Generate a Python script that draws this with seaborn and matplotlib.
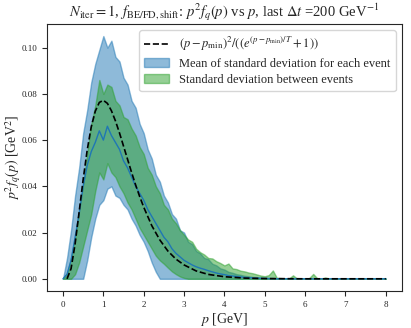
import numpy as np
import pandas as pd
import matplotlib
matplotlib.use("Agg")
import matplotlib.pyplot as plt
import seaborn as sns

# momentum grid of the histogram bins [GeV]
p_grid = np.round(np.arange(0, 8.01, 0.1), 1)

# mean over events
mean_val = [0, 0.002, 0.008, 0.018, 0.028, 0.040, 0.049, 0.055, 0.059, 0.064,
            0.060, 0.066, 0.062, 0.059, 0.056, 0.051, 0.048, 0.044, 0.040, 0.037,
            0.034, 0.030, 0.027, 0.024, 0.021, 0.018, 0.016, 0.013, 0.011, 0.0095,
            0.008, 0.007, 0.006, 0.0052, 0.0046, 0.0041, 0.0035, 0.003, 0.0025, 0.0021,
            0.0018, 0.0014, 0.0012, 0.001, 0.0008, 0.0006, 0.0005, 0.0004, 0.0003, 0.0002,
            0.0002, 0.0001, 0.0001, 0, 0, 0, 0, 0, 0, 0,
            0, 0, 0, 0, 0, 0, 0, 0, 0, 0,
            0, 0, 0, 0, 0, 0, 0, 0, 0, 0, 0]

# band: mean of standard deviation for each event
blue_hi = [0, 0.009, 0.021, 0.036, 0.048, 0.063, 0.073, 0.085, 0.093, 0.099,
           0.105, 0.100, 0.103, 0.096, 0.094, 0.087, 0.084, 0.077, 0.074, 0.067,
           0.063, 0.056, 0.052, 0.045, 0.042, 0.036, 0.033, 0.028, 0.026, 0.021,
           0.020, 0.016, 0.015, 0.012, 0.011, 0.009, 0.0085, 0.0065, 0.0058, 0.0045,
           0.004, 0.003, 0.0026, 0.002, 0.0017, 0.0013, 0.0011, 0.0008, 0.0007, 0.0005,
           0.0004, 0.0003, 0.0003, 0.0002, 0.0002, 0.0001, 0, 0, 0, 0,
           0, 0, 0, 0, 0, 0, 0, 0, 0, 0,
           0, 0, 0, 0, 0, 0, 0, 0, 0, 0, 0]
blue_lo = [0, 0, 0, 0, 0, 0, 0.008, 0.018, 0.026, 0.032,
           0.034, 0.039, 0.040, 0.036, 0.035, 0.032, 0.030, 0.026, 0.023, 0.019,
           0.016, 0.012, 0.007, 0.003, 0, 0, 0, 0, 0, 0,
           0, 0, 0, 0, 0, 0, 0, 0, 0, 0,
           0, 0, 0, 0, 0, 0, 0, 0, 0, 0,
           0, 0, 0, 0, 0, 0, 0, 0, 0, 0,
           0, 0, 0, 0, 0, 0, 0, 0, 0, 0,
           0, 0, 0, 0, 0, 0, 0, 0, 0, 0, 0]

# band: standard deviation between events
green_hi = [0, 0.002, 0.009, 0.018, 0.030, 0.041, 0.054, 0.067, 0.075, 0.086,
            0.080, 0.084, 0.083, 0.077, 0.075, 0.070, 0.069, 0.065, 0.062, 0.057,
            0.054, 0.048, 0.045, 0.040, 0.037, 0.032, 0.030, 0.026, 0.024, 0.021,
            0.019, 0.017, 0.016, 0.013, 0.0115, 0.0105, 0.009, 0.0088, 0.0076, 0.0068,
            0.0058, 0.0066, 0.0045, 0.0042, 0.0035, 0.0032, 0.0027, 0.0024, 0.0019, 0.0014,
            0.0011, 0.0016, 0.0036, 0.0004, 0.0003, 0.0002, 0.0001, 0.0015, 0.0001, 0,
            0, 0.0003, 0.0021, 0.0002, 0, 0.0006, 0, 0, 0, 0,
            0, 0, 0, 0, 0, 0, 0, 0, 0, 0, 0]
green_lo = [0, 0, 0, 0.002, 0.007, 0.014, 0.021, 0.028, 0.038, 0.046,
            0.043, 0.050, 0.046, 0.044, 0.040, 0.037, 0.033, 0.030, 0.026, 0.022,
            0.019, 0.016, 0.013, 0.010, 0.008, 0.0065, 0.0048, 0.0032, 0.002, 0.001,
            0.0004, 0, 0, 0, 0, 0, 0, 0, 0, 0,
            0, 0, 0, 0, 0, 0, 0, 0, 0, 0,
            0, 0, 0, 0, 0, 0, 0, 0, 0, 0,
            0, 0, 0, 0, 0, 0, 0, 0, 0, 0,
            0, 0, 0, 0, 0, 0, 0, 0, 0, 0, 0]

# reference curve (p - pmin)^2 / (exp((p - pmin)/T) + 1)
p_ref = [0.1, 0.2, 0.3, 0.4, 0.5, 0.6, 0.7, 0.8, 0.9, 1.0,
         1.1, 1.2, 1.3, 1.4, 1.5, 1.6, 1.7, 1.8, 1.9, 2.0,
         2.2, 2.4, 2.6, 2.8, 3.0, 3.3, 3.6, 4.0, 4.5, 5.0, 6.0, 7.0, 8.0]
f_ref = [0, 0.0044, 0.0151, 0.0289, 0.0430, 0.0557, 0.0657, 0.0725, 0.0763, 0.0772,
         0.0759, 0.0727, 0.0683, 0.0631, 0.0574, 0.0517, 0.0460, 0.0406, 0.0356, 0.0310,
         0.0230, 0.0168, 0.0120, 0.0085, 0.0060, 0.0034, 0.0019, 0.0009, 0.0003, 0.0001,
         0, 0, 0]

df = pd.DataFrame({"p": p_grid, "mean": mean_val})
df_ref = pd.DataFrame({"p": p_ref, "f": f_ref})

sns.set_style("ticks")
plt.rcParams["font.family"] = ["Liberation Serif", "DejaVu Serif"]
plt.rcParams["mathtext.fontset"] = "stix"

fig, ax = plt.subplots(figsize=(4.11, 3.28), dpi=100)
fig.subplots_adjust(left=0.114, right=0.978, top=0.927, bottom=0.113)

sns.lineplot(data=df_ref, x="p", y="f", color="black", linestyle="--", lw=1.2,
             label=r"$(p-p_{\rm min})^2/((e^{(p-p_{\rm min})/T}+1))$", ax=ax, zorder=4)
ax.fill_between(p_grid, blue_lo, blue_hi, color="tab:blue", alpha=0.5,
                label="Mean of standard deviation for each event")
ax.fill_between(p_grid, green_lo, green_hi, color="tab:green", alpha=0.5,
                label="Standard deviation between events")
sns.lineplot(data=df, x="p", y="mean", color="tab:blue", lw=1.0, ax=ax, zorder=3)

ax.set_title(r"$N_{\rm iter}=1$, $f_{\rm BE/FD,shift}$: $p^2f_q(p)$ vs $p$, last $\Delta t$ =200 GeV$^{-1}$",
             fontsize=10.5, pad=5)
ax.set_xlabel(r"$p$ [GeV]", fontsize=10, labelpad=2)
ax.set_ylabel(r"$p^2f_q(p)$ [GeV$^2$]", fontsize=10)
ax.yaxis.set_label_coords(-0.068, 0.5)
ax.tick_params(labelsize=6.5)
ax.set_xticks(range(0, 9))
ax.set_yticks([0.0, 0.02, 0.04, 0.06, 0.08, 0.10])
ax.set_yticklabels(["0.00", "0.02", "0.04", "0.06", "0.08", "0.10"])
ax.legend(loc="upper right", fontsize=9, labelspacing=0.35)

fig.savefig("out.png", dpi=100)
